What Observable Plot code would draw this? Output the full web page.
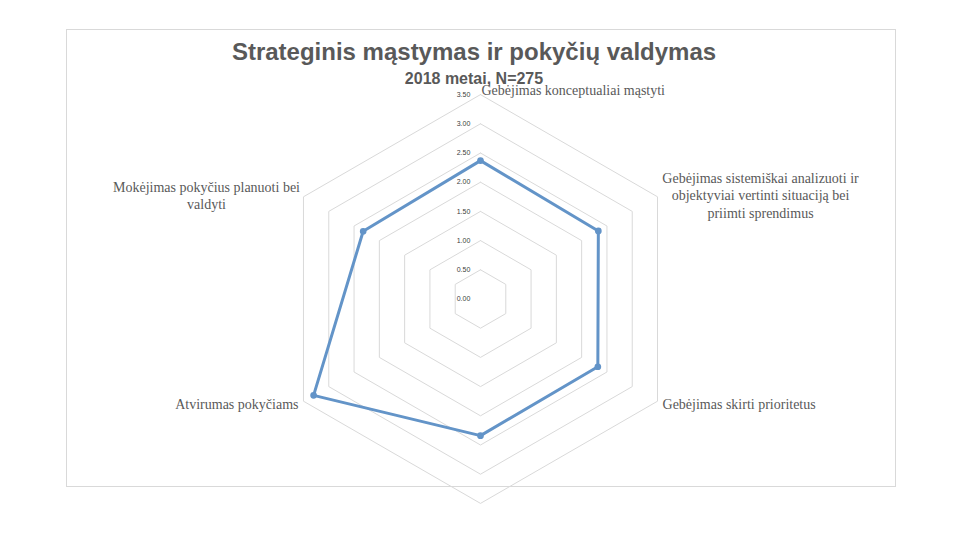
<!DOCTYPE html>
<html>
<head>
<meta charset="utf-8">
<script src="https://cdn.jsdelivr.net/npm/d3@7"></script>
<script src="https://cdn.jsdelivr.net/npm/@observablehq/plot@0.6"></script>
<style>
  html, body { margin: 0; padding: 0; background: #fff; }
  #chart { width: 960px; height: 540px; }
</style>
</head>
<body>
<div id="chart"></div>
<script>
// ---- data ----
const title = "Strateginis mąstymas ir pokyčių valdymas";
const subtitle = "2018 metai, N=275";
const categories = [
  "Gebėjimas konceptualiai mąstyti",
  "Gebėjimas sistemiškai analizuoti ir\nobjektyviai vertinti situaciją bei\npriimti sprendimus",
  "Gebėjimas skirti prioritetus",
  "",
  "Atvirumas pokyčiams",
  "Mokėjimas pokyčius planuoti bei\nvaldyti"
];
const values = [2.37, 2.33, 2.32, 2.34, 3.30, 2.32];
const tickValues = [0, 0.5, 1, 1.5, 2, 2.5, 3, 3.5];
const tickLabels = ["0.00", "0.50", "1.00", "1.50", "2.00", "2.50", "3.00", "3.50"];
const maxValue = 3.5;

// ---- geometry helpers ----
const n = categories.length;
const ang = i => i * 2 * Math.PI / n;
const px = (r, i) => r * Math.sin(ang(i));
const py = (r, i) => r * Math.cos(ang(i));

const rings = [];
tickValues.filter(v => v > 0).forEach(level => {
  for (let i = 0; i <= n; i++) rings.push({level, x: px(level, i % n), y: py(level, i % n)});
});
const series = values.map((v, i) => ({cat: categories[i], x: px(v, i), y: py(v, i)}));
const ticks = tickValues.map((v, i) => ({label: tickLabels[i], y: v}));

// label styling (per axis position)
const labelStyle = [
  {textAnchor: "start", dx: 1, dy: -5},
  {textAnchor: "middle", dx: 103, dy: -2},
  {textAnchor: "start", dx: 5, dy: 2},
  {textAnchor: "middle", dx: 0, dy: 12},
  {textAnchor: "end", dx: -5, dy: 2},
  {textAnchor: "middle", dx: -97, dy: -2}
];

const k = 58.4; // px per unit
const cx = 480, cy = 298.5;
const W = 960, H = 540;
const grey = "#595959";
const blue = "#6394c8";

const labelMarks = categories.map((c, i) => Plot.text([{t: c, x: px(maxValue, i), y: py(maxValue, i)}], {
  x: "x", y: "y", text: "t",
  textAnchor: labelStyle[i].textAnchor, dx: labelStyle[i].dx, dy: labelStyle[i].dy,
  lineAnchor: "middle", lineHeight: 1.24,
  fontFamily: "Liberation Serif, Times New Roman, serif", fontSize: 14, fill: grey
}));

const chart = Plot.plot({
  width: W, height: H,
  margin: 0,
  x: {domain: [-cx / k, (W - cx) / k], range: [0, W], axis: null},
  y: {domain: [-(H - cy) / k, cy / k], range: [H, 0], axis: null},
  style: {background: "#fff", overflow: "visible"},
  marks: [
    Plot.frame({stroke: "#d9d9d9", strokeWidth: 1, insetLeft: 66, insetTop: 29, insetRight: 65, insetBottom: 54}),
    Plot.line(rings, {x: "x", y: "y", z: "level", stroke: "#d9d9d9", strokeWidth: 1}),
    Plot.text(ticks, {x: () => 0, y: "y", text: "label", dx: -17, fontSize: 7, fontFamily: "Liberation Sans, Arial, sans-serif", fill: "#404040", textAnchor: "middle"}),
    Plot.line(series, {x: "x", y: "y", curve: "linear-closed", stroke: blue, strokeWidth: 3, strokeLinejoin: "round"}),
    Plot.dot(series, {x: "x", y: "y", r: 2.6, fill: blue, stroke: blue}),
    ...labelMarks,
    Plot.text([title], {frameAnchor: "top-left", dx: 473.5, dy: 52, text: d => d, textAnchor: "middle", lineAnchor: "middle",
      fontFamily: "Liberation Sans, Arial, sans-serif", fontWeight: "bold", fontSize: 24, fill: grey}),
    Plot.text([subtitle], {frameAnchor: "top-left", dx: 473.5, dy: 78, text: d => d, textAnchor: "middle", lineAnchor: "middle",
      fontFamily: "Liberation Sans, Arial, sans-serif", fontWeight: "bold", fontSize: 16, fill: grey})
  ]
});
document.getElementById("chart").appendChild(chart);
</script>
</body>
</html>
